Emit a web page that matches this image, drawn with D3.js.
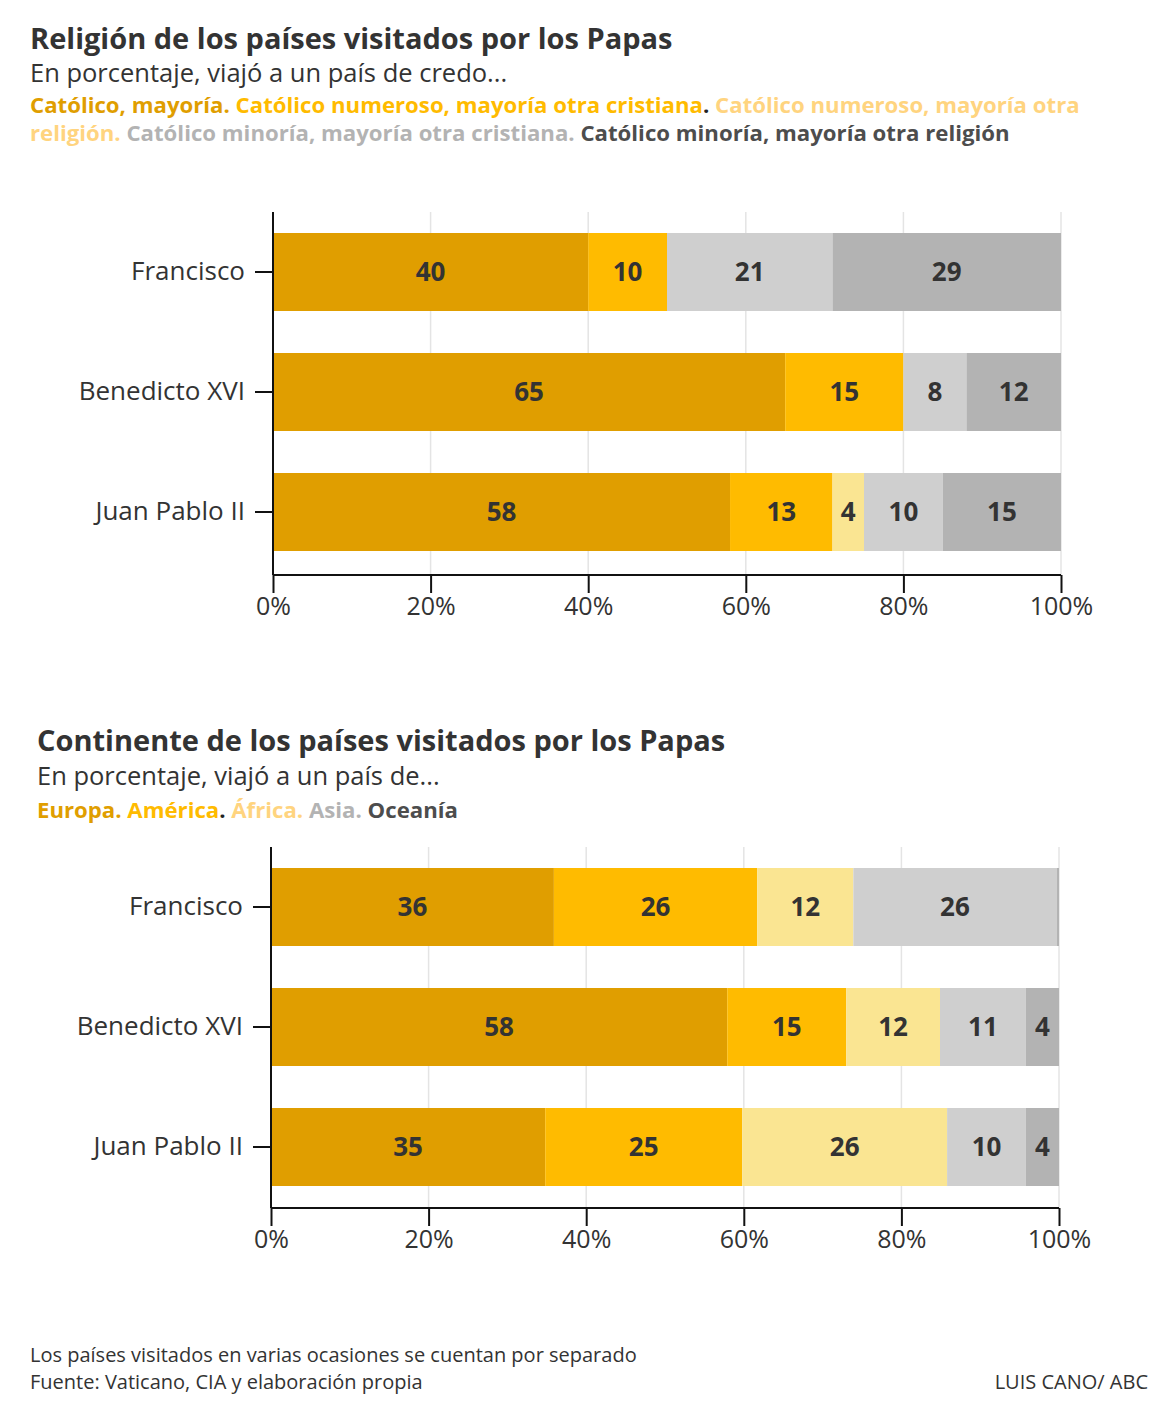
<!DOCTYPE html>
<html>
<head>
<meta charset="utf-8">
<script src="https://cdn.jsdelivr.net/npm/d3@7"></script>
<style>
  body { margin: 0; background: #fff; }
  svg { font-family: "Open Sans", sans-serif; }
  .title { font-weight: 700; fill: #333; }
  .sub { fill: #333; }
  .legend { font-weight: 700; }
  .axis text { font-family: "Open Sans", sans-serif; fill: #333; }
  .barlabel { font-weight: 700; fill: #333; text-anchor: middle; }
  .foot { fill: #333; }
</style>
</head>
<body>
<svg id="chart" width="1162" height="1406"></svg>
<script>
// ---- data ----
const popes = ["Francisco", "Benedicto XVI", "Juan Pablo II"];
const xTicks = [0, 20, 40, 60, 80, 100];

const religionCats = ["Católico, mayoría.", "Católico numeroso, mayoría otra cristiana",
  "Católico numeroso, mayoría otra religión.", "Católico minoría, mayoría otra cristiana.",
  "Católico minoría, mayoría otra religión"];
const religionFrancisco = [40, 10, 0, 21, 29];
const religionBenedicto = [65, 15, 0, 8, 12];
const religionJuanPablo = [58, 13, 4, 10, 15];

const continentCats = ["Europa.", "América", "África.", "Asia.", "Oceanía"];
const continentFrancisco = [35.9, 25.8, 12.2, 25.8, 0.3];
const continentBenedicto = [57.9, 15.1, 11.9, 10.9, 4.2];
const continentJuanPablo = [34.8, 25, 26, 10, 4.2];

// ---- style ----
const barColors = ["#e09e00", "#ffbb00", "#fae592", "#cfcfcf", "#b3b3b3"];
const legendColors = ["#e09e00", "#ffbb00", "#ffd47f", "#b3b3b3", "#4d4d4d"];

const svg = d3.select("#chart");

// wraps coloured legend words onto lines
function drawLegend(g, cats, x0, y0, maxRight, lineH, size) {
  let tokens = [];
  cats.forEach((c, i) => {
    c.split(" ").forEach(w => tokens.push({w: w, c: legendColors[i]}));
    if (!c.endsWith(".") && i < cats.length - 1) {
      tokens[tokens.length - 1].dot = true;
    }
  });
  let x = x0, y = y0;
  const space = size * 0.26;
  tokens.forEach(t => {
    let tmp = g.append("text").attr("class", "legend").style("font-size", size + "px")
      .attr("fill", t.c).text(t.w);
    let w = tmp.node().getComputedTextLength();
    let dw = 0, dot = null;
    if (t.dot) {
      dot = g.append("text").attr("class", "legend").style("font-size", size + "px")
        .attr("fill", "#222").text(".");
      dw = dot.node().getComputedTextLength();
    }
    if (x + w + dw > maxRight && x > x0) { x = x0; y += lineH; }
    tmp.attr("x", x).attr("y", y);
    x += w;
    if (dot) { dot.attr("x", x).attr("y", y); x += dw; }
    x += space;
  });
}

function drawPanel(opt) {
  const g = svg.append("g");
  g.append("text").attr("class", "title").attr("x", opt.tx).attr("y", opt.titleY)
    .style("font-size", opt.titleSize + "px").text(opt.title);
  g.append("text").attr("class", "sub").attr("x", opt.tx).attr("y", opt.subY)
    .style("font-size", opt.subSize + "px").text(opt.sub);
  drawLegend(g, opt.cats, opt.tx, opt.legY, 1140, 28, opt.legSize);

  const x = d3.scaleLinear().domain([0, 100]).range([opt.left, opt.right]);
  const y = d3.scaleBand().domain(popes).range([opt.top, opt.top + 360])
    .paddingInner(0.35).paddingOuter(0.175);

  // grid
  g.append("g").selectAll("line").data(xTicks.slice(1)).join("line")
    .attr("x1", d => x(d)).attr("x2", d => x(d))
    .attr("y1", opt.top).attr("y2", opt.bottom)
    .attr("stroke", "#e4e4e4").attr("stroke-width", 1.5);

  // bars
  const rows = popes.map((p, i) => {
    let acc = 0;
    return opt.values[i].map((v, k) => {
      const s = {pope: p, k: k, v: v, x0: acc};
      acc += v;
      return s;
    });
  });
  const rowG = g.append("g").selectAll("g").data(rows).join("g");
  rowG.selectAll("rect").data(d => d.filter(s => s.v > 0)).join("rect")
    .attr("x", s => x(s.x0)).attr("width", s => x(s.x0 + s.v) - x(s.x0))
    .attr("y", s => y(s.pope)).attr("height", y.bandwidth())
    .attr("fill", s => barColors[s.k]);
  rowG.selectAll("text").data(d => d.filter(s => s.v >= 3)).join("text")
    .attr("class", "barlabel").style("font-size", "26px")
    .attr("x", s => x(s.x0 + s.v / 2)).attr("y", s => y(s.pope) + y.bandwidth() / 2)
    .attr("dy", "0.36em").text(s => Math.round(s.v));

  // axes
  const yAxis = g.append("g").attr("class", "axis y").attr("transform", `translate(${opt.left},0)`)
    .call(d3.axisLeft(y).tickSize(18).tickPadding(10));
  yAxis.select(".domain").attr("d", `M0,${opt.top}V${opt.bottom}`);
  yAxis.selectAll("text").style("font-size", "26px");
  const xAxis = g.append("g").attr("class", "axis x").attr("transform", `translate(0,${opt.bottom})`)
    .call(d3.axisBottom(x).tickValues(xTicks).tickFormat(d => d + "%").tickSize(18).tickPadding(4));
  xAxis.select(".domain").attr("d", `M${opt.left},0H${opt.right}`);
  xAxis.selectAll("text").style("font-size", "25px");
  g.selectAll(".axis line, .axis path").attr("stroke", "#111").attr("stroke-width", 2);
}

drawPanel({
  title: "Religión de los países visitados por los Papas", titleSize: 29, titleY: 49,
  sub: "En porcentaje, viajó a un país de credo...", subSize: 25.5, subY: 82,
  cats: religionCats, legY: 113, legSize: 22.2, tx: 30,
  values: [religionFrancisco, religionBenedicto, religionJuanPablo],
  left: 273, right: 1061, top: 212, bottom: 575
});

drawPanel({
  title: "Continente de los países visitados por los Papas", titleSize: 29, titleY: 751,
  sub: "En porcentaje, viajó a un país de...", subSize: 25.5, subY: 785,
  cats: continentCats, legY: 818, legSize: 22.2, tx: 37,
  values: [continentFrancisco, continentBenedicto, continentJuanPablo],
  left: 271, right: 1059, top: 847, bottom: 1208
});

// footer
svg.append("text").attr("class", "foot").attr("x", 30).attr("y", 1362).style("font-size", "20px")
  .text("Los países visitados en varias ocasiones se cuentan por separado");
svg.append("text").attr("class", "foot").attr("x", 30).attr("y", 1389).style("font-size", "20px")
  .text("Fuente: Vaticano, CIA y elaboración propia");
svg.append("text").attr("class", "foot").attr("x", 1148).attr("y", 1389).style("font-size", "20px")
  .attr("text-anchor", "end").text("LUIS CANO/ ABC");
</script>
</body>
</html>
